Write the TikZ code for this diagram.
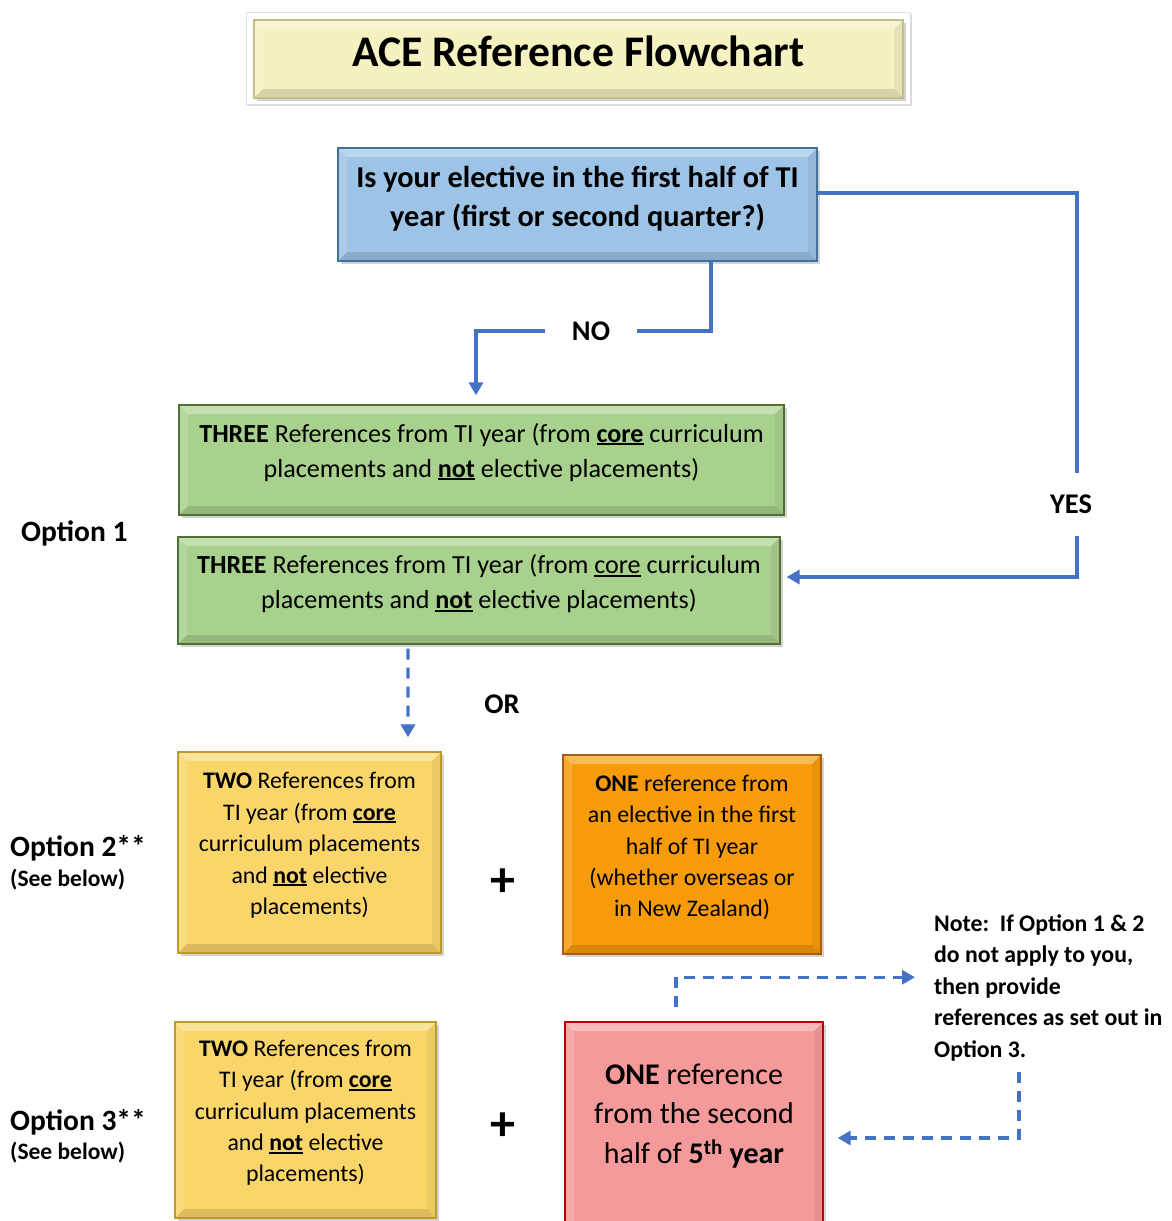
\documentclass[tikz,border=0pt]{standalone}
\usepackage{fontspec}
\setmainfont{Carlito}
\usepackage{xcolor}
\usetikzlibrary{arrows.meta}
\usetikzlibrary{shadows}
\definecolor{boxFillColorA}{HTML}{F4F2C1}
\definecolor{boxFillColorB}{HTML}{9DC3E6}
\definecolor{boxFillColorC}{HTML}{A9D18E}
\definecolor{boxFillColorD}{HTML}{FAD66A}
\definecolor{boxFillColorE}{HTML}{F79B0B}
\definecolor{boxFillColorF}{HTML}{F59A9B}
\definecolor{boxEdgeColorA}{HTML}{C2C08A}
\definecolor{boxEdgeColorB}{HTML}{41719C}
\definecolor{boxEdgeColorC}{HTML}{4F6F35}
\definecolor{boxEdgeColorD}{HTML}{BF9A2A}
\definecolor{boxEdgeColorE}{HTML}{A65C12}
\definecolor{boxEdgeColorF}{HTML}{C00000}
\definecolor{linkColor}{HTML}{4472C4}
\def\fontTitle{\fontsize{43.7bp}{50bp}\selectfont}
\def\fontQuestion{\fontsize{30.3bp}{39bp}\selectfont}
\def\fontThree{\fontsize{26.1bp}{35bp}\selectfont}
\def\fontSmall{\fontsize{23.8bp}{31.4bp}\selectfont}
\def\fontFive{\fontsize{30bp}{39.5bp}\selectfont}
\def\fontOption{\fontsize{29.5bp}{35bp}\selectfont}
\def\fontSee{\fontsize{23.5bp}{28bp}\selectfont}
\def\fontLink{\fontsize{28.5bp}{34bp}\selectfont}
\def\fontPlus{\fontsize{50bp}{56bp}\selectfont}
\newcommand{\ulWord}[1]{\setbox0\hbox{#1}\rlap{\rule[-3bp]{\wd0}{1.8bp}}\box0\relax}
\def\textTwo{\textbf{TWO} References from\\TI year (from \ulWord{\textbf{core}}\\curriculum placements\\and \ulWord{\textbf{not}} elective\\placements)}
\tikzset{
  bevelBox/.style={draw=#1, line width=1.3bp, inner sep=0pt, align=center,
    drop shadow={shadow xshift=3bp, shadow yshift=-3bp, opacity=.35},
    path picture={
      \coordinate (bevNW) at (path picture bounding box.north west);
      \coordinate (bevNE) at (path picture bounding box.north east);
      \coordinate (bevSW) at (path picture bounding box.south west);
      \coordinate (bevSE) at (path picture bounding box.south east);
      \fill[white, opacity=.32] (bevNW) -- (bevNE) -- ([shift={(-9bp,-9bp)}]bevNE)
        -- ([shift={(9bp,-9bp)}]bevNW) -- cycle;
      \fill[white, opacity=.15] (bevNW) -- ([shift={(9bp,-9bp)}]bevNW)
        -- ([shift={(9bp,9bp)}]bevSW) -- (bevSW) -- cycle;
      \fill[black, opacity=.12] (bevSW) -- (bevSE) -- ([shift={(-9bp,9bp)}]bevSE)
        -- ([shift={(9bp,9bp)}]bevSW) -- cycle;
      \fill[black, opacity=.06] (bevNE) -- ([shift={(-9bp,-9bp)}]bevNE)
        -- ([shift={(-9bp,9bp)}]bevSE) -- (bevSE) -- cycle;
    }},
  frameBox/.style={fill=white, draw=black!12, line width=.8bp,
    drop shadow={shadow xshift=2bp, shadow yshift=-2bp, opacity=.3}},
  link/.style={draw=linkColor, line width=3.2bp},
  dashedLink/.style={link, dash pattern=on 11bp off 8bp},
  linkTip/.style={-{Triangle[length=13bp,width=14bp]}},
  linkLabel/.style={fill=white, inner sep=0pt, font=\fontLink\bfseries},
  optionLabel/.style={anchor=base west, inner sep=0pt, font=\fontOption\bfseries},
  seeLabel/.style={anchor=base west, inner sep=0pt, font=\fontSee\bfseries},
  plusSign/.style={inner sep=0pt, font=\fontPlus\bfseries},
}

\begin{document}
\begin{tikzpicture}[x=1bp,y=-1bp]
\useasboundingbox (0,0) rectangle (1172,1221);
\clip (0,0) rectangle (1172,1221);

% title
\begin{scope}
\node[frameBox, minimum width=664bp, minimum height=92bp] (titleFrame) at (578,58) {};
\node[bevelBox=boxEdgeColorA, fill=boxFillColorA, minimum width=649bp,
  minimum height=78bp, text depth=15bp, font=\fontTitle\bfseries] (title)
  at (578.5,59) {ACE Reference Flowchart};
\end{scope}

% box layer
\begin{scope}
\node[bevelBox=boxEdgeColorB, fill=boxFillColorB, minimum width=479bp,
  minimum height=113bp, text depth=15.5bp, font=\fontQuestion\bfseries] (question)
  at (577.5,204.5) {Is your elective in the first half of TI\\year (first or second quarter?)};
\node[bevelBox=boxEdgeColorC, fill=boxFillColorC, minimum width=605bp,
  minimum height=110bp, text depth=20bp, font=\fontThree] (threeA)
  at (481.5,460) {\textbf{THREE} References from TI year (from \ulWord{\textbf{core}} curriculum\\placements and \ulWord{\textbf{not}} elective placements)};
\node[bevelBox=boxEdgeColorC, fill=boxFillColorC, minimum width=602bp,
  minimum height=107bp, text depth=18bp, font=\fontThree] (threeB)
  at (479,590.5) {\textbf{THREE} References from TI year (from \ulWord{core} curriculum\\placements and \ulWord{\textbf{not}} elective placements)};
\node[bevelBox=boxEdgeColorD, fill=boxFillColorD, minimum width=263bp,
  minimum height=201bp, text depth=18bp, font=\fontSmall] (twoA)
  at (309.5,852.5) {\textTwo};
\node[bevelBox=boxEdgeColorE, fill=boxFillColorE, minimum width=258bp,
  minimum height=199bp, text depth=17bp, font=\fontSmall] (oneA)
  at (692,854.5) {\textbf{ONE} reference from\\an elective in the first\\half of TI year\\(whether overseas or\\in New Zealand)};
\node[bevelBox=boxEdgeColorD, fill=boxFillColorD, minimum width=261bp,
  minimum height=196bp, text depth=18bp, font=\fontSmall] (twoB)
  at (305.5,1120) {\textTwo};
\node[bevelBox=boxEdgeColorF, fill=boxFillColorF, minimum width=258bp,
  minimum height=208bp, text depth=25.5bp, font=\fontFive] (oneB)
  at (694,1126) {\textbf{ONE} reference\\from the second\\half of \textbf{5\textsuperscript{th} year}};
\end{scope}

% labels
\begin{scope}
\node[optionLabel] (optOne) at (21,541.7) {Option 1};
\node[optionLabel] (optTwo) at (10,856) {Option 2**};
\node[seeLabel] (optTwoSee) at (10,886) {(See below)};
\node[optionLabel] (optThree) at (10,1130.7) {Option 3**};
\node[seeLabel] (optThreeSee) at (10,1159) {(See below)};
\node[plusSign] (plusA) at (503,883) {+};
\node[plusSign] (plusB) at (503,1127) {+};
\node[linkLabel, minimum width=92bp] (noLabel) at (591,331) {NO};
\node[linkLabel, minimum height=63bp] (yesLabel) at (1071,504.5) {YES};
\node[linkLabel] (orLabel) at (502,704) {OR};
\node[anchor=north west, inner sep=0pt, align=left, font=\fontSmall\bfseries] (note)
  at (934,914.5) {Note:\ \ If Option 1 \& 2\\do not apply to you,\\then provide\\references as set out in\\Option 3.};
\end{scope}

% link layer
\begin{scope}
\draw[link] ([xshift=133.5bp]question.south) |- (noLabel.east);
\draw[link, linkTip, shorten >=9bp] (noLabel.west) -| ([xshift=-5.5bp]threeA.north);
\draw[link] ([yshift=11.5bp]question.east) -| ([xshift=6bp]yesLabel.north);
\draw[link, linkTip, shorten >=6bp] ([xshift=6bp]yesLabel.south) |- ([yshift=13.5bp]threeB.east);
\draw[dashedLink, linkTip, shorten <=4bp, shorten >=14bp] ([xshift=-71bp]threeB.south)
  -- ([xshift=98.5bp]twoA.north);
\draw[dashedLink, linkTip] ([xshift=-18bp,yshift=14bp]oneB.north)
  |- ([xshift=-19bp,yshift=10.5bp]note.west);
\draw[dashedLink, linkTip, shorten >=14bp] ([xshift=85bp,yshift=-11.5bp]note.south west)
  |- ([yshift=-12bp]oneB.east);
\end{scope}
\end{tikzpicture}
\end{document}
